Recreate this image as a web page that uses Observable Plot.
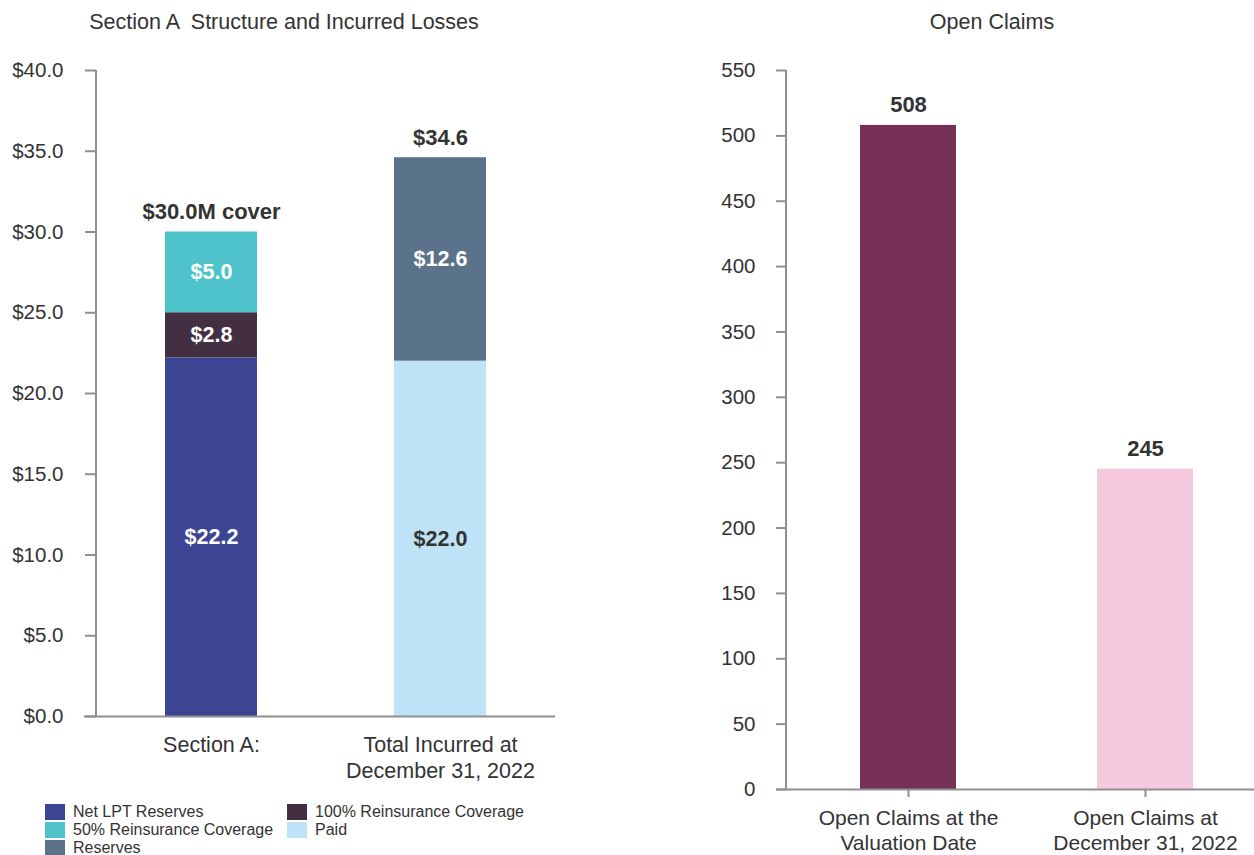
<!DOCTYPE html>
<html>
<head>
<meta charset="utf-8">
<script src="https://cdn.jsdelivr.net/npm/d3@7"></script>
<script src="https://cdn.jsdelivr.net/npm/@observablehq/plot@0.6"></script>
<style>
  html, body { margin: 0; padding: 0; background: #fff; }
  body { width: 1254px; height: 855px; position: relative; overflow: hidden;
         font-family: "Liberation Sans", Arial, sans-serif; color: #333; }
  .title { position: absolute; top: 10px; font-size: 21.5px; white-space: pre; transform: translateX(-50%); }
  .panel { position: absolute; top: 0; }
  #legend { position: absolute; left: 45px; top: 804px; display: grid;
            grid-template-columns: 242px 260px; row-gap: 2px; font-size: 16px; line-height: 16px; }
  .item { display: flex; align-items: center; height: 16px; }
  .sw { width: 20px; height: 16px; margin-right: 8px; flex: none; }
</style>
</head>
<body>
<div class="title" style="left:284px">Section A  Structure and Incurred Losses</div>
<div class="title" style="left:992px">Open Claims</div>
<div id="left" class="panel" style="left:0px"></div>
<div id="right" class="panel" style="left:640px"></div>
<div id="legend"></div>
<script>
// ---- Data: left panel ----
const lossCategories = ["Section A:", "Total Incurred at\nDecember 31, 2022"];
const sectionSeries = ["Net LPT Reserves", "100% Reinsurance Coverage", "50% Reinsurance Coverage"];
const sectionValues = [22.2, 2.8, 5.0];
const incurredSeries = ["Paid", "Reserves"];
const incurredValues = [22.0, 12.6];
const lossTotals = [30.0, 34.6];
const lossTotalLabels = ["$30.0M cover", "$34.6"];
const lossTicks = [0, 5, 10, 15, 20, 25, 30, 35, 40];
const seriesOrder = ["Net LPT Reserves", "100% Reinsurance Coverage", "50% Reinsurance Coverage", "Paid", "Reserves"];
const seriesColors = ["#3c4593", "#432f41", "#4fc3cb", "#bee3f6", "#5a738a"];
const seriesLabelColors = ["#ffffff", "#ffffff", "#ffffff", "#333333", "#ffffff"];
const legendOrder = ["Net LPT Reserves", "100% Reinsurance Coverage", "50% Reinsurance Coverage", "Paid", "Reserves"];

// ---- Data: right panel ----
const claimCategories = ["Open Claims at the\nValuation Date", "Open Claims at\nDecember 31, 2022"];
const claimValues = [508, 245];
const claimColors = ["#762f56", "#f5c8dd"];
const claimTicks = [0, 50, 100, 150, 200, 250, 300, 350, 400, 450, 500, 550];

const FONT = '"Liberation Sans", Arial, sans-serif';
const AXIS = "#8f8f8f";

const segments = [
  ...sectionSeries.map((s, i) => ({category: lossCategories[0], series: s, value: sectionValues[i]})),
  ...incurredSeries.map((s, i) => ({category: lossCategories[1], series: s, value: incurredValues[i]}))
];
const totals = lossCategories.map((c, i) => ({category: c, value: lossTotals[i], label: lossTotalLabels[i]}));

const left = Plot.plot({
  width: 570, height: 790,
  marginLeft: 96, marginRight: 15, marginTop: 70, marginBottom: 74,
  style: {fontFamily: FONT, fontSize: "20px", color: "#333", background: "transparent"},
  x: {domain: lossCategories, paddingInner: 0.6, paddingOuter: 0.3},
  y: {domain: [0, 40]},
  color: {domain: seriesOrder, range: seriesColors},
  marks: [
    Plot.barY(segments, Plot.stackY({x: "category", y: "value", fill: "series", order: null})),
    Plot.text(segments, Plot.stackY({x: "category", y: "value", order: null,
      text: d => "$" + d.value.toFixed(1),
      fill: d => seriesLabelColors[seriesOrder.indexOf(d.series)],
      fontWeight: "bold", fontSize: 21.5})),
    Plot.text(totals, {x: "category", y: "value", text: "label", dy: -13, lineAnchor: "bottom",
      fill: "#333", fontWeight: "bold", fontSize: 22}),
    Plot.ruleY([0], {stroke: AXIS, strokeWidth: 2, insetLeft: -12}),
    Plot.axisY({ticks: lossTicks, tickFormat: d => "$" + d.toFixed(1), tickSize: 11, tickPadding: 22,
      stroke: AXIS, strokeWidth: 2, fill: "#333", fontSize: 20.5, label: null}),
    Plot.axisX({tickSize: 0, tickPadding: 17, fontSize: 21.5, lineHeight: 1.2, fill: "#333", label: null})
  ]
});
document.getElementById("left").appendChild(left);

const claimData = claimCategories.map((c, i) => ({category: c, value: claimValues[i]}));

const right = Plot.plot({
  width: 614, height: 855,
  marginLeft: 146, marginRight: 0, marginTop: 70, marginBottom: 66,
  style: {fontFamily: FONT, fontSize: "20px", color: "#333", background: "transparent"},
  x: {domain: claimCategories, range: [146, 626], paddingInner: 0.597, paddingOuter: 0.307},
  y: {domain: [0, 550]},
  color: {domain: claimCategories, range: claimColors},
  marks: [
    Plot.barY(claimData, {x: "category", y: "value", fill: "category"}),
    Plot.text(claimData, {x: "category", y: "value", text: d => String(d.value), dy: -13, lineAnchor: "bottom",
       fill: "#333", fontWeight: "bold", fontSize: 22}),
    Plot.ruleY([0], {stroke: AXIS, strokeWidth: 2, insetLeft: -10}),
    Plot.axisY({ticks: claimTicks, tickSize: 10, tickPadding: 21, stroke: AXIS, strokeWidth: 2,
      fill: "#333", fontSize: 20.5, label: null}),
    Plot.axisX({tickSize: 8, tickPadding: 10, stroke: AXIS, strokeWidth: 2, fontSize: 21,
      lineHeight: 1.17, fill: "#333", label: null})
  ]
});
document.getElementById("right").appendChild(right);

// vertical axis lines drawn from the scales
function addYLine(svg, yDomain, ml) {
  const y = svg.scale("y");
  d3.select(svg).append("line")
    .attr("x1", ml).attr("x2", ml)
    .attr("y1", y.apply(yDomain[1])).attr("y2", y.apply(yDomain[0]))
    .attr("stroke", AXIS).attr("stroke-width", 2);
}
addYLine(left, [0, 40], 96);
addYLine(right, [0, 550], 146);

// legend
const legend = document.getElementById("legend");
legendOrder.forEach(name => {
  const item = document.createElement("div");
  item.className = "item";
  const sw = document.createElement("span");
  sw.className = "sw";
  sw.style.background = seriesColors[seriesOrder.indexOf(name)];
  item.appendChild(sw);
  item.appendChild(document.createTextNode(name));
  legend.appendChild(item);
});
</script>
</body>
</html>
